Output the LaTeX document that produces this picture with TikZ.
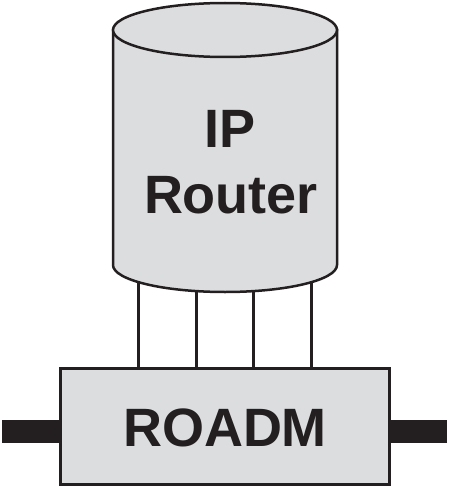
\documentclass[tikz,border=0pt]{standalone}
\usepackage{fontspec}
\setmainfont{Liberation Sans}
\definecolor{ink}{HTML}{231F20}
\definecolor{boxgray}{HTML}{DCDDDF}
\begin{document}
\begin{tikzpicture}[x=1pt,y=-1pt,
  lbl/.style={font=\fontsize{54}{66}\selectfont\bfseries, text=ink, inner sep=0pt},
  wire/.style={draw=ink, line width=3pt},
  fiber/.style={draw=ink, line width=23pt}]
\useasboundingbox (0,0) rectangle (448,487);
% fibers
\coordinate (lend) at (2,431.5);
\coordinate (rend) at (447,431.5);
% ROADM box
\node[draw=ink, fill=boxgray, line width=3pt, minimum width=329pt, minimum height=116pt, inner sep=0pt] (roadm) at (224.5,426) {};
\draw[fiber] (lend) -- (lend -| roadm.west);
\draw[fiber] (rend) -- (rend -| roadm.east);
\node[draw=ink, fill=boxgray, line width=3pt, minimum width=329pt, minimum height=116pt, inner sep=0pt] at (roadm.center) {};
\node[lbl, anchor=base] (roadmtxt) at (225,446) {ROADM};
% connectors
\foreach \x [count=\i] in {138,196,253,311} {
  \coordinate (p\i) at (\x,275);
  \draw[wire] (p\i) -- (p\i |- roadm.north);
}
% cylinder
\draw[draw=ink, fill=boxgray, line width=2.5pt]
  (113,30) -- (113,265) arc[start angle=180, end angle=0, x radius=112, y radius=27] -- (337,30) -- cycle;
\draw[draw=ink, fill=boxgray, line width=2.5pt] (225,30) ellipse [x radius=112, y radius=27];
\node[lbl, anchor=base] (ip) at (230,147) {IP};
\node[lbl, anchor=base] (router) at (231,213) {Router};
\end{tikzpicture}
\end{document}
